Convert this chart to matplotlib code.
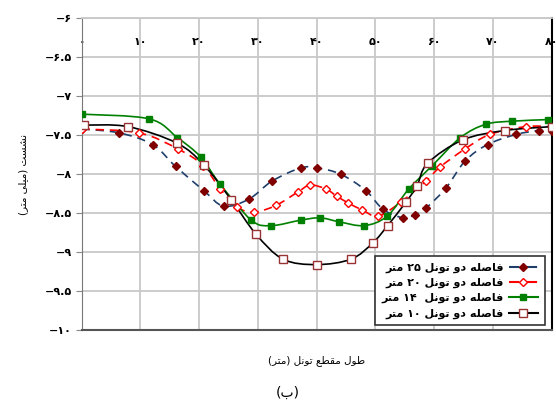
import numpy as np
import matplotlib
matplotlib.use("Agg")
import matplotlib.pyplot as plt
from matplotlib.path import Path
from matplotlib.patches import PathPatch
from matplotlib.lines import Line2D
from matplotlib.ticker import MultipleLocator, FuncFormatter

# ---- data ----
x_25 = [0, 6.4, 12.1, 16.0, 20.8, 24.2, 28.5, 32.4, 37.3, 40.1, 44.1, 48.4, 51.3,
        54.7, 56.7, 58.7, 62.0, 65.3, 69.1, 74.0, 77.9, 80]
y_25 = [-7.42, -7.47, -7.62, -7.90, -8.21, -8.41, -8.32, -8.09, -7.92, -7.92, -8.00,
        -8.21, -8.45, -8.56, -8.52, -8.43, -8.18, -7.83, -7.62, -7.49, -7.44, -7.44]

x_20 = [0, 9.8, 16.5, 20.7, 23.6, 26.5, 29.3, 33.1, 36.8, 38.9, 41.6, 43.4, 45.4,
        47.8, 50.5, 54.3, 58.6, 61.0, 65.2, 69.5, 75.6, 80]
y_20 = [-7.42, -7.47, -7.68, -7.89, -8.19, -8.42, -8.49, -8.40, -8.23, -8.14, -8.19,
        -8.28, -8.37, -8.46, -8.54, -8.36, -8.09, -7.91, -7.68, -7.49, -7.39, -7.39]

x_14 = [0, 11.5, 16.3, 20.3, 23.5, 28.9, 32.3, 37.3, 40.6, 43.8, 48.1, 52.0, 55.7,
        59.7, 64.5, 68.8, 73.3, 79.4]
y_14 = [-7.23, -7.29, -7.53, -7.78, -8.12, -8.59, -8.66, -8.59, -8.56, -8.61, -8.66,
        -8.54, -8.19, -7.89, -7.53, -7.36, -7.32, -7.30]

x_10 = [0.4, 7.9, 16.2, 20.8, 25.5, 29.7, 34.3, 40.0, 45.9, 49.6, 52.1, 55.2, 57.1,
        58.9, 64.9, 72.0, 80]
y_10 = [-7.37, -7.39, -7.60, -7.88, -8.33, -8.77, -9.09, -9.16, -9.09, -8.88, -8.66,
        -8.36, -8.15, -7.86, -7.56, -7.44, -7.39]

labels = ["فاصله دو تونل ۲۵ متر", "فاصله دو تونل ۲۰ متر",
          "فاصله دو تونل  ۱۴ متر", "فاصله دو تونل ۱۰ متر"]
xlabel = "طول مقطع تونل (متر)"
ylabel = "نشست (میلی متر)"
caption = "(ب)"

# ---- minimal persian shaping (matplotlib has no bidi / joining) ----
FORMS = {
    'ا': ('\uFE8D', '\uFE8E', None, None),
    'د': ('\uFEA9', '\uFEAA', None, None),
    'و': ('\uFEED', '\uFEEE', None, None),
    'ر': ('\uFEAD', '\uFEAE', None, None),
    'ف': ('\uFED1', '\uFED2', '\uFED3', '\uFED4'),
    'ص': ('\uFEB9', '\uFEBA', '\uFEBB', '\uFEBC'),
    'ل': ('\uFEDD', '\uFEDE', '\uFEDF', '\uFEE0'),
    'ه': ('\uFEE9', '\uFEEA', '\uFEEB', '\uFEEC'),
    'ت': ('\uFE95', '\uFE96', '\uFE97', '\uFE98'),
    'ن': ('\uFEE5', '\uFEE6', '\uFEE7', '\uFEE8'),
    'م': ('\uFEE1', '\uFEE2', '\uFEE3', '\uFEE4'),
    'ط': ('\uFEC1', '\uFEC2', '\uFEC3', '\uFEC4'),
    'ق': ('\uFED5', '\uFED6', '\uFED7', '\uFED8'),
    'ع': ('\uFEC9', '\uFECA', '\uFECB', '\uFECC'),
    'ش': ('\uFEB5', '\uFEB6', '\uFEB7', '\uFEB8'),
    'س': ('\uFEB1', '\uFEB2', '\uFEB3', '\uFEB4'),
    'ی': ('\uFEEF', '\uFEF0', '\uFEF3', '\uFEF4'),
    'ب': ('\uFE8F', '\uFE90', '\uFE91', '\uFE92'),
}
DIGITS = set('۰۱۲۳۴۵۶۷۸۹0123456789.')


def fa(s):
    shaped = []
    for i, ch in enumerate(s):
        if ch not in FORMS:
            shaped.append(ch)
            continue
        prev = s[i - 1] if i > 0 else ''
        nxt = s[i + 1] if i < len(s) - 1 else ''
        jp = prev in FORMS and FORMS[prev][2] is not None
        jn = nxt in FORMS and FORMS[ch][2] is not None
        f = FORMS[ch]
        shaped.append(f[3] if jp and jn else f[1] if jp else f[2] if jn else f[0])
    tokens = []
    for ch in shaped:
        if ch in DIGITS and tokens and tokens[-1][-1] in DIGITS:
            tokens[-1] += ch
        else:
            tokens.append(ch)
    out = ''.join(tokens[::-1])
    return out.translate(str.maketrans('()', ')('))


def fa_num(v, pos=None):
    s = ('%g' % v).replace('-', '\u2212')
    return s.translate(str.maketrans('0123456789', '۰۱۲۳۴۵۶۷۸۹'))


def smooth_path(xs, ys):
    # excel-like smoothed line, catmull-rom converted to cubic bezier segments
    p = np.column_stack([xs, ys])
    pts = np.vstack([p[0], p, p[-1]])
    verts = [p[0]]
    codes = [Path.MOVETO]
    for i in range(1, len(pts) - 2):
        c1 = pts[i] + (pts[i + 1] - pts[i - 1]) / 6
        c2 = pts[i + 1] - (pts[i + 2] - pts[i]) / 6
        verts += [c1, c2, pts[i + 1]]
        codes += [Path.CURVE4] * 3
    return Path(verts, codes)


plt.rcParams['font.family'] = 'DejaVu Sans'
plt.rcParams['font.weight'] = 'bold'

fig = plt.figure(figsize=(5.56, 4.03), dpi=100)
ax = fig.add_axes([0.1466, 0.181, 0.8454, 0.7736])

LW = 1.2
series = [
    (x_25, y_25, dict(color='#1F3F6B', ls=(0, (5, 3.5))), dict(marker='D', ms=4.2, mfc='#800000', mec='#800000')),
    (x_20, y_20, dict(color='#FF0000', ls=(0, (5, 3.5))), dict(marker='D', ms=4.2, mfc='white', mec='#FF0000')),
    (x_14, y_14, dict(color='#008000', ls='-'), dict(marker='s', ms=5, mfc='#008000', mec='#008000')),
    (x_10, y_10, dict(color='black', ls='-'), dict(marker='s', ms=5.6, mfc='white', mec='#993333')),
]

handles = []
for (xs, ys, lst, mst), lab in zip(series, labels):
    ax.add_patch(PathPatch(smooth_path(xs, ys), fill=False, edgecolor=lst['color'],
                           linestyle=lst['ls'], lw=LW, zorder=3))
    ax.plot(xs, ys, ls='none', zorder=4, mew=1.0, **mst)
    handles.append(Line2D([], [], color=lst['color'], ls=lst['ls'], lw=LW + 0.3, mew=1.0, **mst))

ax.set_xlim(0, 80)
ax.set_ylim(-10, -6)
ax.xaxis.set_major_locator(MultipleLocator(10))
ax.yaxis.set_major_locator(MultipleLocator(0.5))
ax.xaxis.set_major_formatter(FuncFormatter(fa_num))
ax.yaxis.set_major_formatter(FuncFormatter(fa_num))
ax.grid(True, color='#C8C8C8', lw=1.3)
ax.set_axisbelow(True)

ax.tick_params(axis='x', top=True, labeltop=True, bottom=False, labelbottom=False,
               length=0, pad=-21, labelsize=8)
ax.tick_params(axis='y', length=4, color='#888888', labelsize=8, pad=3)

ax.spines['left'].set_color('#777777')
ax.spines['bottom'].set_color('#555555')
ax.spines['bottom'].set_linewidth(1.5)
ax.spines['top'].set_color('#C8C8C8')
ax.spines['top'].set_linewidth(1.3)
ax.spines['right'].set_color('black')
ax.spines['right'].set_linewidth(1.5)

ax.set_xlabel(fa(xlabel), fontsize=7.5, labelpad=18)
ax.set_ylabel(fa(ylabel), fontsize=7.5, labelpad=12)

leg = ax.legend(handles, [fa(l) for l in labels], loc='lower right',
                bbox_to_anchor=(0.997, -0.003), markerfirst=False, fontsize=8,
                handlelength=2.6, handletextpad=0.5, labelspacing=0.45,
                borderpad=0.6, fancybox=False, framealpha=1, edgecolor='#333333')
leg.get_frame().set_linewidth(1.2)

fig.text(0.518, 0.025, fa(caption), ha='center', va='center', fontsize=10,
         fontweight='normal')

fig.savefig('out.png', dpi=100)
